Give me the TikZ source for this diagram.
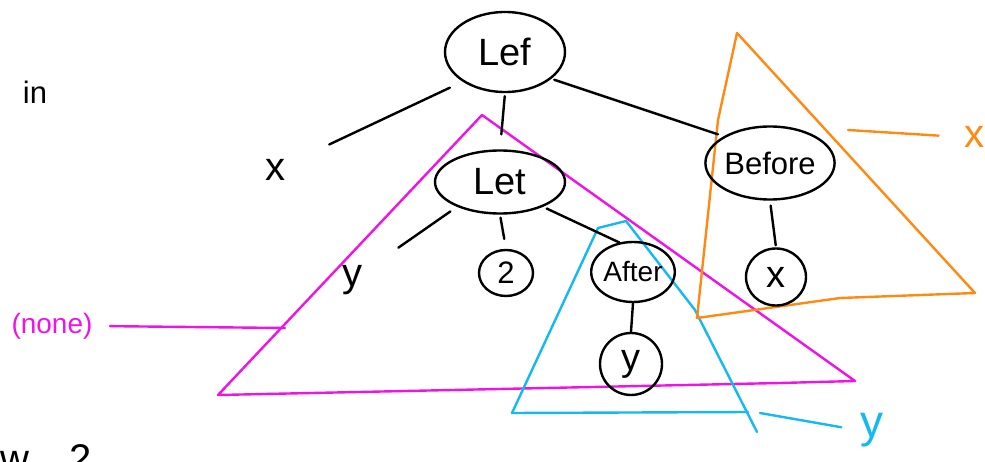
\documentclass[tikz,border=0pt]{standalone}
\usepackage{fontspec}
\setmainfont{Liberation Sans}
\usetikzlibrary{shapes.geometric}
\definecolor{nonepen}{HTML}{F012E6}
\definecolor{afterpen}{HTML}{14B9F2}
\definecolor{beforepen}{HTML}{FF8A12}

\begin{document}
\begin{tikzpicture}[x=1pt,y=-1pt,
  hand/.style={line width=2.4pt,line cap=round,line join=round},
  edge/.style={hand,draw=black},
  bubble/.style={ellipse,draw=black,line width=2.4pt,inner sep=0pt},
  leaf/.style={ellipse,draw=black,line width=2.4pt,inner sep=0pt},
  word/.style={font=\fontsize{38}{42}\selectfont},
  mid/.style={font=\fontsize{31}{36}\selectfont},
  small/.style={font=\fontsize{28}{32}\selectfont},
  loose/.style={font=\fontsize{40}{44}\selectfont},
  nonetri/.style={hand,draw=nonepen},
  aftertri/.style={hand,draw=afterpen},
  beforetri/.style={hand,draw=beforepen}]
\useasboundingbox (0,0) rectangle (985,462);
% triangles
\draw[nonetri] (482,115) -- (218,395) -- (780,383) -- (855,381) -- cycle;
\draw[aftertri] (512,413) -- (598,228) -- (626,221) -- (695,310) -- (757,432);
\draw[aftertri] (512,413) -- (748,412);
\draw[beforetri] (737,33) -- (718,120) -- (697,318) -- (840,298) -- (975,293) -- cycle;
% tree
\node[bubble,word,minimum width=120pt,minimum height=80pt] (root) at (505,52) {Lef};
\node[bubble,word,minimum width=130pt,minimum height=63pt] (letin) at (500,182) {Let};
\node[bubble,small,minimum width=83pt,minimum height=60pt] (aft) at (633,272) {After};
\node[bubble,mid,minimum width=116pt,minimum height=73pt] (bef) at (770,163) {Before};
\node[leaf,mid,minimum width=54pt,minimum height=46pt] (two) at (506,273) {2};
\node[leaf,word,minimum width=62pt,minimum height=62pt] (yin) at (631,364) {y};
\node[leaf,word,minimum width=60pt,minimum height=57pt] (xin) at (776,277) {x};
\node[loose] (xlbl) at (275,170) {x};
\node[loose] (ylbl) at (352,280) {y};
\node[mid] (inlbl) at (35,92) {in};
\draw[edge,shorten <=14pt,shorten >=45pt] (root.215) -- (xlbl);
\draw[edge,shorten <=3pt,shorten >=15pt] (root.south) -- (letin.north);
\draw[edge,shorten <=3pt,shorten >=6pt] (root.-30) -- (bef.150);
\draw[edge,shorten <=8pt,shorten >=40pt] (letin.210) -- (ylbl);
\draw[edge,shorten <=3pt,shorten >=10pt] (letin.south) -- (two.north);
\draw[edge,shorten <=4pt] (letin.-30) -- (aft.115);
\draw[edge] (aft.south) -- (yin.north);
\draw[edge,shorten <=5pt,shorten >=2pt] (bef.south) -- (xin.north);
% region labels
\node[small,text=nonepen] (nonelbl) at (52,326) {(none)};
\coordinate (noneend) at (285,328);
\draw[nonetri,shorten <=14pt] (nonelbl.east) -- (noneend);
\node[loose,text=beforepen] (xreg) at (974,137) {x};
\coordinate (xregstart) at (848,130);
\draw[beforetri,shorten >=22pt] (xregstart) -- (xreg.west);
\node[font=\fontsize{46}{50}\selectfont,text=afterpen] (yreg) at (872,430) {y};
\coordinate (yregstart) at (760,413);
\draw[aftertri,shorten >=16pt] (yregstart) -- (yreg.west);
% cut off at the bottom
\node[loose,anchor=base west] (tailw) at (-3,472) {w};
\node[loose,anchor=base west] (tailtwo) at (66,472) {2};
\end{tikzpicture}
\end{document}
